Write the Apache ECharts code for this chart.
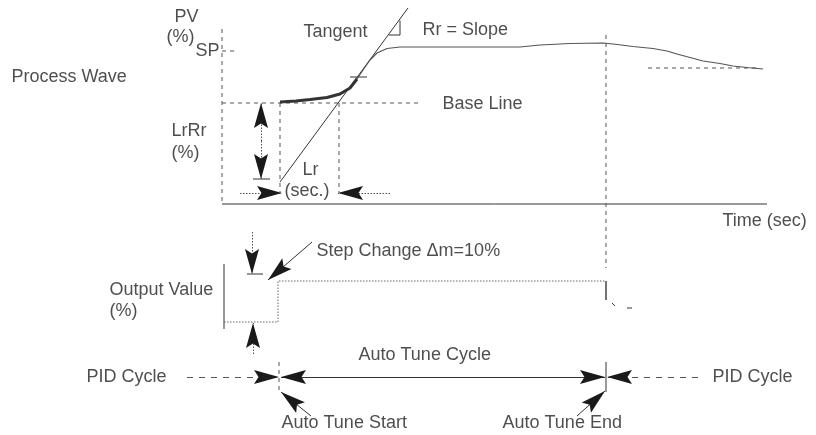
<!DOCTYPE html>
<html>
<head>
<meta charset="utf-8">
<script src="https://cdn.jsdelivr.net/npm/echarts@6/dist/echarts.min.js"></script>
<style>
  html, body { margin: 0; padding: 0; background: #fff; }
  #main { width: 816px; height: 435px; }
</style>
</head>
<body>
<div id="main"></div>
<script>
// the diagram is laid out on one hidden value grid, 816 x 435 units, y grows downward

// process wave (PV) trace
var pvCurve = [[280,102],[296,101],[310,99.5],[327,97.5],[340,94],[350,88],[357,79],[363,70],[370,60],
  [377,53],[387,48.5],[400,47],[420,47],[520,47],[540,45],[570,43.5],[603,43],[613,44],[633,46.5],
  [653,48.5],[667,51],[677,54],[690,57.5],[703,61],[720,63.5],[733,66],[747,67.5],[763,69]];
var boldEnd = 357; // bold part of the trace ends at the tangent point

// output value (MV) step
var outputStep = [[224,322],[278,322],[278,281],[606,281]];
var outputDrop = [[606,281],[606,300]];

// tangent line and slope triangle
var tangent = [[280,182],[408,8]];
var slopeTri = [[389,35],[400,35],[400,20.5]];

// plain segments: [points, style]
var segments = [
  [[[222,29],[222,204]], 'dashed'],          // PV axis
  [[[222,204],[767,204]], 'solid'],          // time axis
  [[[222,51],[238,51]], 'dashed'],           // SP tick
  [[[222,103],[420,103]], 'dashed'],         // base line
  [[[280,103],[280,193]], 'dashed'],         // Lr start
  [[[339,103],[339,193]], 'dashed'],         // Lr end
  [[[253,179],[270,179]], 'solid'],          // LrRr bottom tick
  [[[350,77],[367,77]], 'solid'],            // tangent point tick
  [[[648,68],[760,68]], 'dashed'],           // settle level
  [[[606,35],[606,268]], 'dashed'],          // auto tune end marker
  [[[224,264],[224,329]], 'solid'],          // output value bar
  [[[247,274],[263,274]], 'solid'],          // step tick
  [[[612,303],[615,306]], 'solid'],
  [[[627,308],[632,308]], 'solid'],
  [[[279,362],[279,392]], 'dashed'],         // start marker
  [[[606,362],[606,392]], 'solid']           // end marker
];

// arrows: [from, tip, line style]
var arrows = [
  [[240,193],[282,193],'dotted'],
  [[390,193],[338,193],'dotted'],
  [[261,141],[261,103],'dotted'],
  [[261,141],[261,179],'dotted'],
  [[252,232],[252,274],'dotted'],
  [[253,354],[253,323],'dotted'],
  [[312,242],[268,280],'solid'],
  [[187,377],[279,377],'long'],
  [[698,377],[607,377],'long'],
  [[440,377],[281,377],'solid'],
  [[440,377],[605,377],'solid'],
  [[311,416],[281,392],'solid'],
  [[577,416],[605,391],'solid']
];

// text labels: [text, x, y]
var labels = [
  ['PV', 175, 18], ['(%)', 167, 38], ['SP', 196, 52],
  ['Process Wave', 12, 78],
  ['LrRr', 172, 132], ['(%)', 172, 154],
  ['Tangent', 304, 33], ['Rr = Slope', 423, 31], ['Base Line', 443, 105],
  ['Lr', 303, 171], ['(sec.)', 285, 192],
  ['Time (sec)', 723, 222],
  ['Step Change Δm=10%', 317, 252],
  ['Output Value', 110, 291], ['(%)', 110, 312],
  ['Auto Tune Cycle', 359, 356],
  ['PID Cycle', 87, 378], ['PID Cycle', 713, 378],
  ['Auto Tune Start', 282, 424], ['Auto Tune End', 503, 424]
];

var headLen = 25, headW = 14;
var headPath = 'path://M0,0 L7,25 L0,20.5 L-7,25 Z';
var dashMap = { solid: 'solid', dashed: [4, 4], dotted: [1.5, 1.5], long: [6, 6] };

function poly(pts, type, width, color) {
  return {
    type: 'line', data: pts, showSymbol: false, symbol: 'none', silent: true,
    lineStyle: { width: width || 1, color: color || '#444', type: dashMap[type] || type }
  };
}

var series = [];
segments.forEach(function (s) { series.push(poly(s[0], s[1], 1, s[1] === 'solid' ? '#333' : '#555')); });
series.push(poly(tangent, 'solid', 1, '#333'));
series.push(poly(slopeTri, 'solid', 1, '#333'));
series.push(poly(pvCurve.filter(function (p) { return p[0] >= boldEnd; }), 'solid', 1.2, '#555'));
series.push(poly(pvCurve.filter(function (p) { return p[0] <= boldEnd; }), 'solid', 3, '#333'));
series.push(poly(outputStep, 'dotted', 1, '#666'));
series.push(poly(outputDrop, 'solid', 1.5, '#444'));

// arrow shafts
['solid', 'long', 'dotted'].forEach(function (t) {
  series.push({
    type: 'lines', coordinateSystem: 'cartesian2d', silent: true, symbol: 'none',
    lineStyle: { width: 1, color: t === 'solid' ? '#333' : '#555', type: dashMap[t], opacity: 1 },
    data: arrows.filter(function (a) { return a[2] === t; }).map(function (a) {
      return { coords: [a[0], a[1]] };
    })
  });
});

// arrow heads: centred half a head back from the tip, turned along the shaft
series.push({
  type: 'scatter', silent: true, symbol: headPath, symbolSize: [headW, headLen],
  itemStyle: { color: '#1a1a1a', opacity: 1 },
  data: arrows.map(function (a) {
    var dx = a[1][0] - a[0][0], dy = a[1][1] - a[0][1];
    var len = Math.sqrt(dx * dx + dy * dy);
    return {
      value: [a[1][0] - dx / len * headLen / 2, a[1][1] - dy / len * headLen / 2],
      symbolRotate: Math.atan2(-dx, -dy) * 180 / Math.PI
    };
  })
});

series.push({
  type: 'scatter', symbolSize: 1, silent: true,
  itemStyle: { color: 'rgba(0,0,0,0)' },
  label: {
    show: true, position: [0, 0], align: 'left', verticalAlign: 'middle',
    formatter: '{b}', fontFamily: 'Liberation Sans', fontSize: 18, color: '#222'
  },
  data: labels.map(function (l) { return { name: l[0], value: [l[1], l[2]] }; })
});

var chart = echarts.init(document.getElementById('main'));
chart.setOption({
  animation: false,
  grid: { left: 0, right: 0, top: 0, bottom: 0 },
  xAxis: { type: 'value', min: 0, max: 816, show: false },
  yAxis: { type: 'value', min: 0, max: 435, inverse: true, show: false },
  series: series
});
</script>
</body>
</html>
